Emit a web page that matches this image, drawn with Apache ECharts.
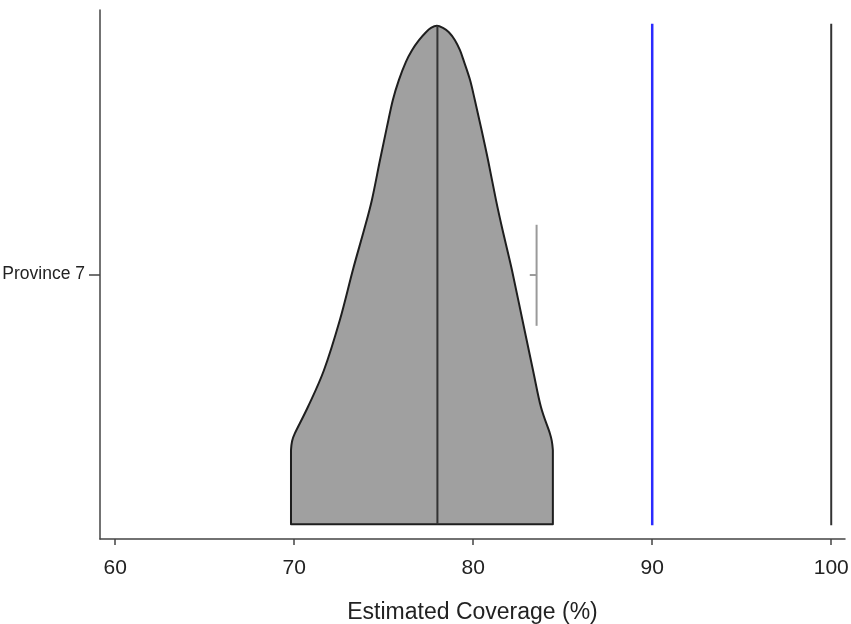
<!DOCTYPE html>
<html>
<head>
<meta charset="utf-8">
<script src="https://cdn.jsdelivr.net/npm/echarts@6/dist/echarts.min.js"></script>
<style>
  html, body { margin: 0; padding: 0; background: #fff; }
  #chart { width: 851px; height: 624px; }
</style>
</head>
<body>
<div id="chart"></div>
<script>
// Category shown on the vertical axis
const categories = ['Province 7'];

// Outline of the coverage distribution: for each height (0..1 of the row),
// the lowest and highest estimated coverage (%) reached at that height.
const shapeHeight = [0.028, 0.168, 0.183, 0.200, 0.250, 0.319, 0.414, 0.509, 0.584, 0.641,
                     0.716, 0.779, 0.830, 0.868, 0.902, 0.924, 0.943, 0.958, 0.966, 0.970];
const lowerEdge   = [69.82, 69.82, 69.87, 70.04, 70.77, 71.66, 72.55, 73.28, 73.90, 74.34,
                     74.79, 75.18, 75.51, 75.85, 76.24, 76.58, 76.97, 77.36, 77.64, 77.97];
const upperEdge   = [84.45, 84.45, 84.40, 84.28, 83.78, 83.34, 82.75, 82.16, 81.64, 81.27,
                     80.83, 80.43, 80.09, 79.82, 79.49, 79.26, 78.98, 78.64, 78.31, 77.97];

// Median of the distribution
const medianCoverage = 78.0;
const medianSpan = [0.028, 0.970];

// Reference lines: target and full coverage
const referenceLines = [90, 100];
const referenceSpan = [0.026, 0.974];

// Point estimate marker
const estimateCoverage = 83.54;
const estimateSpan = [0.403, 0.594];
const estimateTickFrom = 83.16;
const estimateTickHeight = 0.499;

// Axis ticks
const xTicks = [60, 70, 80, 90, 100];
const xMin = 59.15;
const xMax = 100.77;

const fontFamily = '"Liberation Sans", Arial, Helvetica, sans-serif';

// Catmull-Rom curve through pixel points, written as SVG path commands
function curveThrough(pts) {
  let d = '';
  for (let i = 0; i < pts.length - 1; i++) {
    const p0 = pts[Math.max(i - 1, 0)];
    const p1 = pts[i];
    const p2 = pts[i + 1];
    const p3 = pts[Math.min(i + 2, pts.length - 1)];
    const c1 = [p1[0] + (p2[0] - p0[0]) / 6, p1[1] + (p2[1] - p0[1]) / 6];
    const c2 = [p2[0] - (p3[0] - p1[0]) / 6, p2[1] - (p3[1] - p1[1]) / 6];
    d += ' C' + c1[0] + ',' + c1[1] + ' ' + c2[0] + ',' + c2[1] + ' ' + p2[0] + ',' + p2[1];
  }
  return d;
}

const chart = echarts.init(document.getElementById('chart'), null, { renderer: 'canvas' });

function vLine(x, span, color, width) {
  return {
    type: 'line',
    xAxisIndex: 0,
    yAxisIndex: 1,
    data: [[x, span[0]], [x, span[1]]],
    symbol: 'none',
    silent: true,
    lineStyle: { color: color, width: width },
    z: 5
  };
}

chart.setOption({
  animation: false,
  backgroundColor: '#fff',
  grid: { left: 100, right: 6, top: 10, bottom: 85, containLabel: false, outerBoundsMode: 'none' },
  xAxis: {
    type: 'value',
    min: xMin,
    max: xMax,
    name: 'Estimated Coverage (%)',
    nameLocation: 'middle',
    nameGap: 62,
    nameTextStyle: { fontSize: 23, color: '#222', fontFamily: fontFamily },
    splitLine: { show: false },
    axisLine: { show: true, lineStyle: { color: '#444', width: 1.5 } },
    axisTick: { show: true, length: 6, customValues: xTicks, lineStyle: { color: '#444', width: 1.5 } },
    axisLabel: { customValues: xTicks, fontSize: 21, color: '#222', margin: 19, fontFamily: fontFamily }
  },
  yAxis: [
    {
      type: 'category',
      data: categories,
      boundaryGap: true,
      axisLine: { show: true, lineStyle: { color: '#444', width: 1.5 } },
      axisTick: { show: true, alignWithLabel: true, length: 11, lineStyle: { color: '#444', width: 1.5 } },
      axisLabel: { fontSize: 17.5, color: '#222', margin: 15, fontFamily: fontFamily },
      splitLine: { show: false }
    },
    {
      type: 'value',
      min: 0,
      max: 1,
      show: false,
      splitLine: { show: false }
    }
  ],
  series: [
    {
      type: 'custom',
      xAxisIndex: 0,
      yAxisIndex: 1,
      data: [0],
      silent: true,
      z: 2,
      renderItem: function (params, api) {
        const n = shapeHeight.length;
        // Curved part: up the lower edge to the peak, then down the upper edge
        const curve = [];
        for (let i = 1; i < n; i++) curve.push(api.coord([lowerEdge[i], shapeHeight[i]]));
        for (let i = n - 2; i >= 1; i--) curve.push(api.coord([upperEdge[i], shapeHeight[i]]));
        const bl = api.coord([lowerEdge[0], shapeHeight[0]]);
        const br = api.coord([upperEdge[0], shapeHeight[0]]);
        const d = 'M' + bl[0] + ',' + bl[1] +
                  ' L' + curve[0][0] + ',' + curve[0][1] +
                  curveThrough(curve) +
                  ' L' + br[0] + ',' + br[1] + ' Z';
        return {
          type: 'path',
          shape: { pathData: d },
          style: { fill: '#a0a0a0', stroke: '#1e1e1e', lineWidth: 2, lineJoin: 'round' }
        };
      }
    },
    vLine(medianCoverage, medianSpan, '#333', 2),
    vLine(referenceLines[0], referenceSpan, '#2b2bff', 2.5),
    vLine(referenceLines[1], referenceSpan, '#333', 2),
    vLine(estimateCoverage, estimateSpan, '#9a9a9a', 2),
    {
      type: 'line',
      xAxisIndex: 0,
      yAxisIndex: 1,
      data: [[estimateTickFrom, estimateTickHeight], [estimateCoverage, estimateTickHeight]],
      symbol: 'none',
      silent: true,
      lineStyle: { color: '#9a9a9a', width: 2 },
      z: 5
    }
  ]
});
</script>
</body>
</html>
